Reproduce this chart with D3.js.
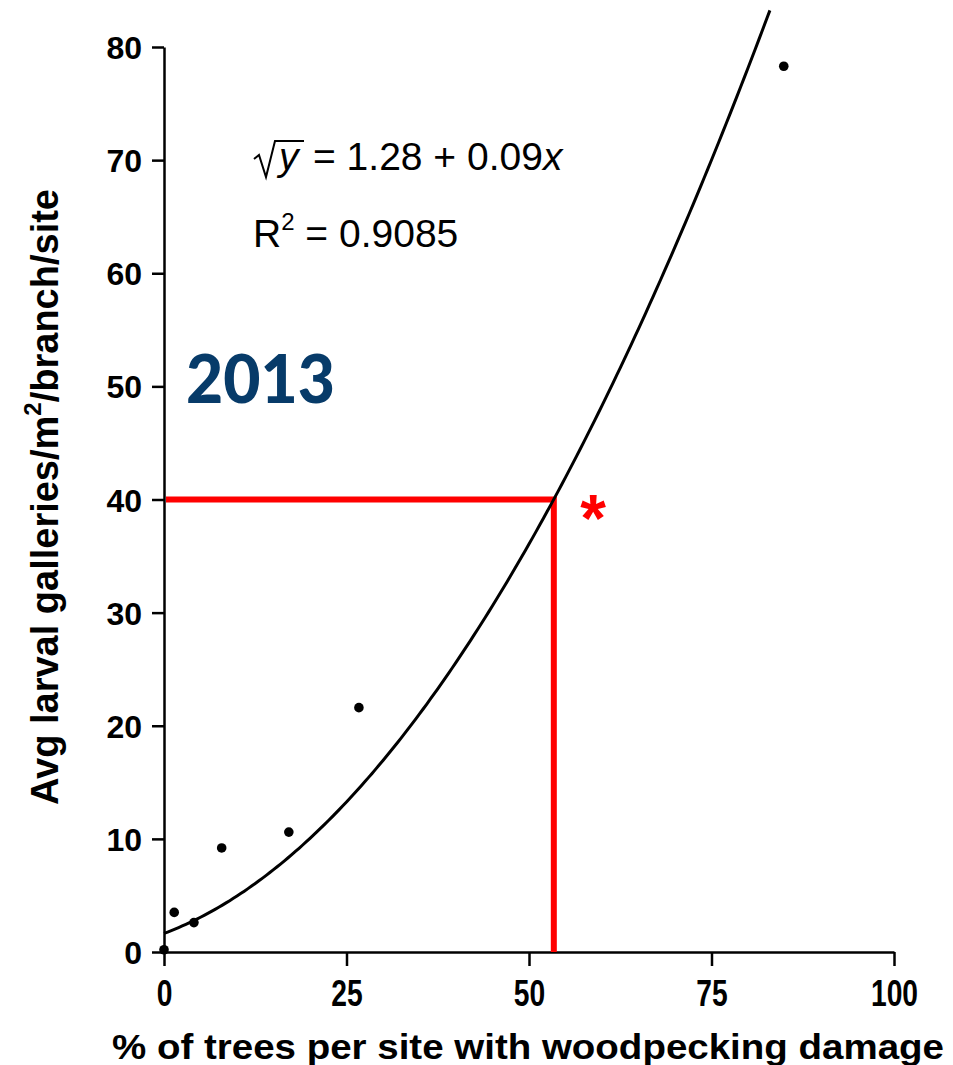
<!DOCTYPE html>
<html>
<head>
<meta charset="utf-8">
<script src="https://cdn.jsdelivr.net/npm/d3@7"></script>
<style>
  html, body { margin: 0; padding: 0; background: #fff; }
  svg { display: block; }
</style>
</head>
<body>
<svg id="chart" width="953" height="1065"></svg>
<script>
// Site observations: woodpecking damage vs. larval gallery density
const damagePct = [0, 1.4, 4.1, 7.9, 17.1, 26.7, 84.9];
const galleries = [0.2, 3.5, 2.6, 9.2, 10.6, 21.6, 78.3];

// Square-root regression fit: sqrt(y) = a + b*x
const fitCoef = [1.28, 0.0945];
const fitMaxX = [83.1];
const fitR2 = [0.9085];

// Threshold marked in red
const thresholdX = [53.4];
const thresholdY = [40];

// Axis ticks
const xTicks = [0, 25, 50, 75, 100];
const yTicks = [0, 10, 20, 30, 40, 50, 60, 70, 80];

const svg = d3.select("#chart");

const x = d3.scaleLinear().domain([0, 100]).range([164, 894]);
const y = d3.scaleLinear().domain([0, 80]).range([952, 47]);

const axisFont = "'Liberation Sans', Arial, sans-serif";

// X axis
const gx = svg.append("g")
  .attr("transform", `translate(0,${y(0)})`)
  .call(d3.axisBottom(x).tickValues(xTicks).tickSize(14).tickSizeOuter(0).tickPadding(14).tickFormat(d3.format("d")));
// Y axis
const gy = svg.append("g")
  .attr("transform", `translate(${x(0)},0)`)
  .call(d3.axisLeft(y).tickValues(yTicks).tickSize(12).tickSizeOuter(0).tickPadding(10).tickFormat(d3.format("d")));

[gx, gy].forEach(g => {
  g.selectAll("path, line").attr("stroke", "#000").attr("stroke-width", 2.5);
  g.selectAll("text")
    .attr("fill", "#000")
    .style("font-family", axisFont)
    .style("font-weight", "bold")
    .style("font-size", "32px");
});
gy.selectAll("text").attr("dy", "0.36em");
// x tick labels are set in a narrower, taller face
gx.selectAll(".tick text")
  .style("font-size", "36px")
  .attr("dy", "0.71em")
  .attr("textLength", d => String(d).length * 15.7)
  .attr("lengthAdjust", "spacingAndGlyphs");

// Axis titles
svg.append("text")
  .attr("x", 112).attr("y", 1059)
  .attr("textLength", 832).attr("lengthAdjust", "spacingAndGlyphs")
  .style("font-family", axisFont).style("font-weight", "bold").style("font-size", "35px")
  .text("% of trees per site with woodpecking damage");

const yTitle = svg.append("text")
  .attr("transform", "translate(58,497) rotate(-90)")
  .attr("text-anchor", "middle")
  .style("font-family", axisFont).style("font-weight", "bold").style("font-size", "38px");
yTitle.append("tspan").text("Avg larval galleries/m");
yTitle.append("tspan").attr("dy", "-17").style("font-size", "24px").text("2");
yTitle.append("tspan").attr("dy", "17").text("/branch/site");

// Red threshold guide lines
svg.append("path")
  .attr("d", d3.line()([[x(0) + 2, y(thresholdY[0])], [x(thresholdX[0]), y(thresholdY[0])], [x(thresholdX[0]), y(0)]]))
  .attr("fill", "none").attr("stroke", "#ff0000").attr("stroke-width", 6)
  .attr("stroke-linejoin", "miter");

svg.append("text")
  .attr("x", 593).attr("y", 541)
  .attr("text-anchor", "middle")
  .attr("fill", "#ff0000")
  .style("font-family", axisFont).style("font-weight", "bold").style("font-size", "66px")
  .text("*");

// Regression curve
const fitPts = d3.range(0, fitMaxX[0] + 0.001, 0.5).map(v => {
  const r = fitCoef[0] + fitCoef[1] * v;
  return [x(v), y(r * r)];
});
svg.append("path")
  .attr("d", d3.line()(fitPts))
  .attr("fill", "none").attr("stroke", "#000").attr("stroke-width", 3);

// Observations
svg.append("g").selectAll("circle")
  .data(damagePct.map((d, i) => [d, galleries[i]]))
  .join("circle")
  .attr("cx", d => x(d[0]))
  .attr("cy", d => y(d[1]))
  .attr("r", 4.8)
  .attr("fill", "#000");

// Regression equation and fit statistic
const eqFont = "'Liberation Sans', Arial, sans-serif";
const eq = svg.append("g").style("font-family", eqFont).style("font-size", "39px");
// radical sign
eq.append("path")
  .attr("d", "M254,159 L259,155 L266,177 L275,141 L304,141")
  .attr("fill", "none").attr("stroke", "#000").attr("stroke-width", 2);
eq.append("text").attr("x", 279).attr("y", 170).style("font-style", "italic").text("y");
const eqText = eq.append("text").attr("x", 313).attr("y", 170);
eqText.append("tspan").text(`= ${fitCoef[0].toFixed(2)} + ${fitCoef[1].toFixed(2)}`);
eqText.append("tspan").style("font-style", "italic").text("x");

const r2 = eq.append("text").attr("x", 253).attr("y", 247);
r2.append("tspan").text("R");
r2.append("tspan").attr("dy", "-17").style("font-size", "24px").text("2");
r2.append("tspan").attr("dy", "17").text(` = ${fitR2[0].toFixed(4)}`);

// Year label
svg.append("text")
  .attr("x", 186).attr("y", 403)
  .attr("fill", "#073b69")
  .attr("textLength", 149).attr("lengthAdjust", "spacingAndGlyphs")
  .style("font-family", "Lato, 'Open Sans', sans-serif").style("font-weight", "900").style("font-size", "66px")
  .text("2013");
</script>
</body>
</html>
